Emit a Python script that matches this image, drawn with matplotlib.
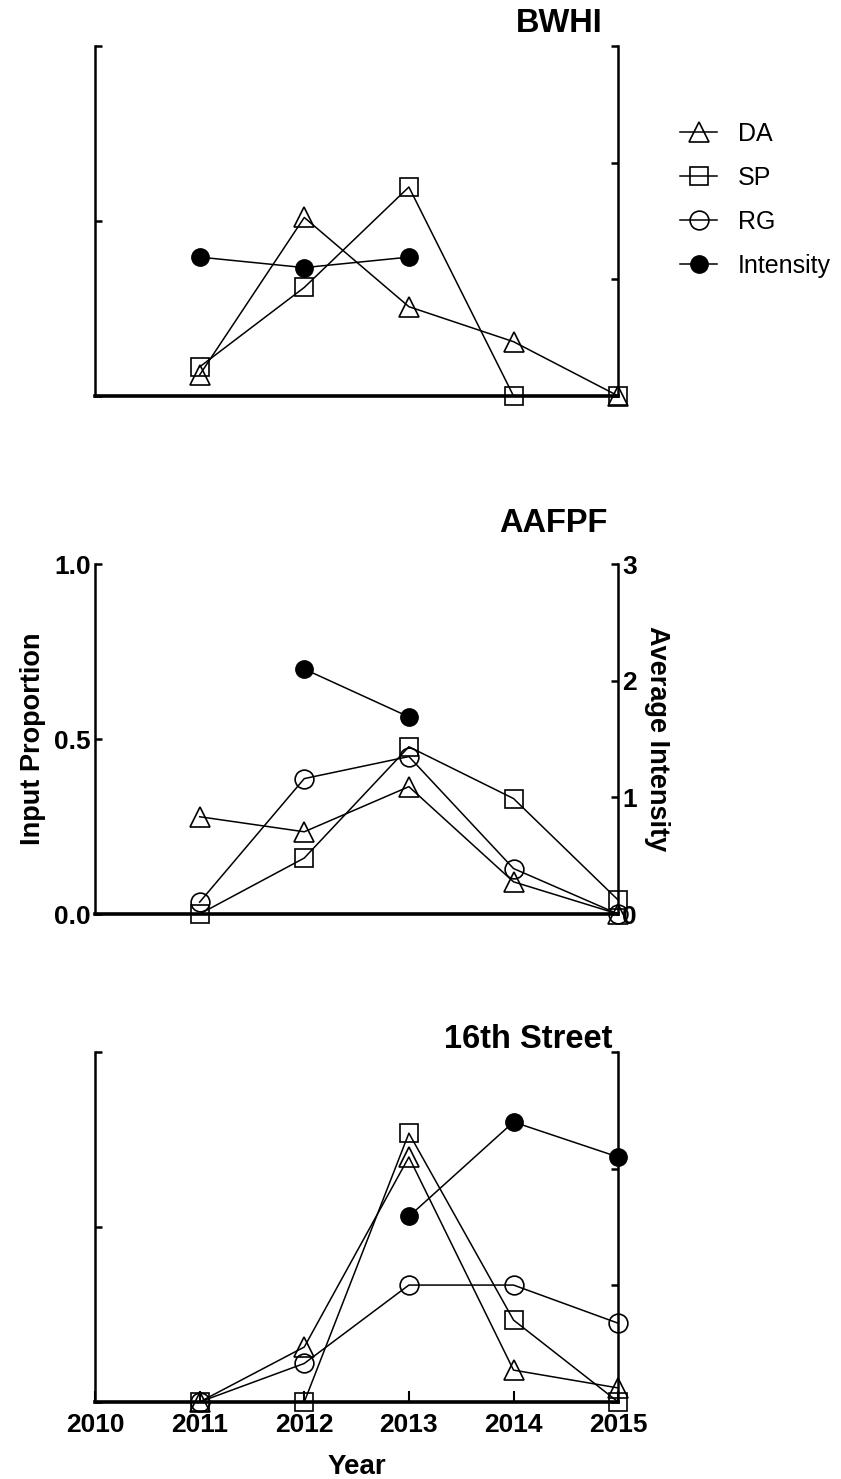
import numpy as np
import matplotlib.pyplot as plt
from matplotlib.lines import Line2D

plt.rcParams['font.family'] = ['Liberation Sans', 'DejaVu Sans']

years = [2011, 2012, 2013, 2014, 2015]
nan = np.nan

# input proportions (left axis) and average intensity (right axis)
bwhi_da = [0.06, 0.51, 0.255, 0.155, 0.0]
bwhi_sp = [0.083, 0.31, 0.597, 0.0, 0.0]
bwhi_int = [1.19, 1.10, 1.19, nan, nan]

aafpf_da = [0.278, 0.235, 0.364, 0.092, 0.0]
aafpf_sp = [0.0, 0.16, 0.478, 0.33, 0.04]
aafpf_rg = [0.034, 0.387, 0.45, 0.13, 0.0]
aafpf_int = [nan, 2.10, 1.69, nan, nan]

st16_da = [0.0, 0.157, 0.70, 0.091, 0.04]
st16_sp = [0.0, 0.0, 0.768, 0.234, 0.0]
st16_rg = [0.0, 0.11, 0.334, 0.334, 0.225]
st16_int = [nan, nan, 1.59, 2.40, 2.10]

x_ticks = [2010, 2011, 2012, 2013, 2014, 2015]

# name, series, axes bottom (fig frac), title right edge / baseline (px)
panels = [
    ("BWHI", bwhi_da, bwhi_sp, None, bwhi_int, 0.7323, 603, 32),
    ("AAFPF", aafpf_da, aafpf_sp, aafpf_rg, aafpf_int, 0.3820, 608, 532),
    ("16th Street", st16_da, st16_sp, st16_rg, st16_int, 0.0521, 612, 1048),
]

W, H = 841, 1479
fig = plt.figure(figsize=(W / 100, H / 100), dpi=100)

open_style = dict(color='black', lw=1.1, mfc='none', mec='black', mew=1.2, clip_on=False)
ms_tri, ms_sq, ms_circ, ms_fill = 15, 13.5, 13.5, 12.5

for i, (name, da, sp, rg, inten, bottom, tx, ty) in enumerate(panels):
    ax = fig.add_axes([0.113, bottom, 0.622, 0.2366])
    ax2 = ax.twinx()

    ax.plot(years, da, marker='^', ms=ms_tri, **open_style)
    ax.plot(years, sp, marker='s', ms=ms_sq, **open_style)
    if rg is not None:
        ax.plot(years, rg, marker='o', ms=ms_circ, **open_style)
    ax2.plot(years, inten, marker='o', ms=ms_fill, color='black', lw=1.1, clip_on=False)

    ax.set_xlim(2010, 2015)
    ax.set_ylim(0, 1)
    ax2.set_ylim(0, 3)
    ax.set_yticks([0, 0.5, 1.0])
    ax2.set_yticks([0, 1, 2, 3])
    ax.set_xticks(x_ticks)

    for a in (ax, ax2):
        a.spines['top'].set_visible(False)
        a.patch.set_visible(False)
    ax.spines['right'].set_visible(False)
    ax2.spines['left'].set_visible(False)
    ax2.spines['bottom'].set_visible(False)
    ax.spines['left'].set_linewidth(1.8)
    ax2.spines['right'].set_linewidth(1.8)
    ax.spines['bottom'].set_linewidth(2.6)

    ax.tick_params(axis='y', direction='in', length=5, width=1.8, pad=3)
    ax2.tick_params(axis='y', direction='in', length=5, width=1.8, pad=3)
    ax.tick_params(axis='x', direction='in', length=8, width=1.5, pad=8)

    if i == 1:
        ax.set_yticklabels(['0.0', '0.5', '1.0'], fontsize=19, fontweight='bold')
        ax2.set_yticklabels(['0', '1', '2', '3'], fontsize=19, fontweight='bold')
        ax.set_ylabel('Input Proportion', fontsize=19.5, fontweight='bold', labelpad=6)
        ax2.set_ylabel('Average Intensity', fontsize=19.5, fontweight='bold',
                       rotation=270, labelpad=24)
    else:
        ax.set_yticklabels([])
        ax2.set_yticklabels([])

    if i == 2:
        ax.set_xticklabels([str(y) for y in x_ticks], fontsize=19, fontweight='bold')
        ax.set_xlabel('Year', fontsize=20, fontweight='bold', labelpad=12)
    else:
        ax.tick_params(axis='x', length=0)
        ax.set_xticklabels([])

    fig.text(tx / W, 1 - ty / H, name, ha='right', va='baseline',
             fontsize=23.5, fontweight='bold')

handles = [
    Line2D([], [], marker='^', ms=ms_tri, **open_style),
    Line2D([], [], marker='s', ms=ms_sq, **open_style),
    Line2D([], [], marker='o', ms=ms_circ, **open_style),
    Line2D([], [], marker='o', ms=ms_fill, color='black', lw=1.1),
]
fig.legend(handles, ['DA', 'SP', 'RG', 'Intensity'], loc='center left',
           bbox_to_anchor=(680 / W, 1 - 200 / H), frameon=False,
           borderpad=0, borderaxespad=0, handlelength=1.48, handletextpad=0.84,
           labelspacing=0.8, prop={'size': 18})

fig.savefig('out.png', dpi=100)
